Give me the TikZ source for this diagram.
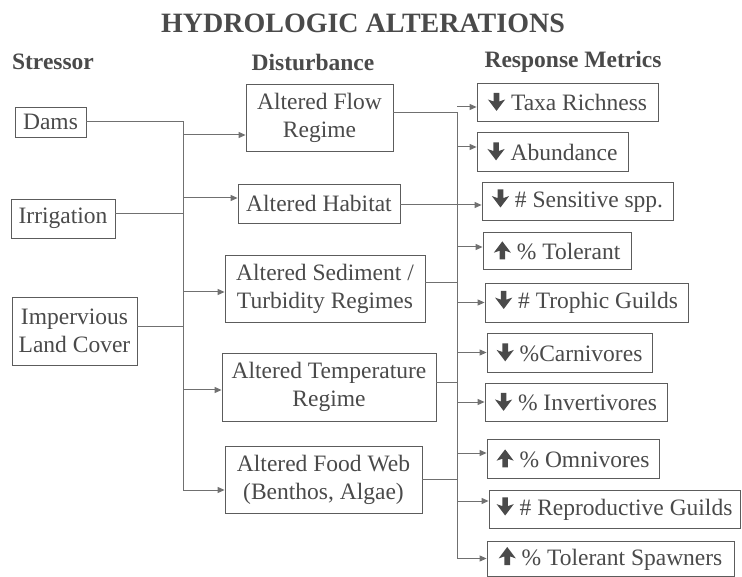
\documentclass[tikz,border=0pt]{standalone}
\usepackage{fontspec}
\setmainfont{Liberation Serif}
\usetikzlibrary{arrows.meta,shadows}
\definecolor{ink}{HTML}{4A4A4A}
\definecolor{wirec}{HTML}{707070}
\definecolor{edgec}{HTML}{5C5C5C}
% bold block arrows placed in front of the metric names
\newcommand\arrdown{\tikz[x=1pt,y=1pt,baseline=0pt]\fill[ink] (6,18)--(11.6,18)--(11.6,9.4)--(17.4,11.4)--(8.8,0)--(0.2,11.4)--(6,9.4)--cycle;}
\newcommand\arrup{\tikz[x=1pt,y=1pt,baseline=0pt]\fill[ink] (6,0)--(11.6,0)--(11.6,8.6)--(17.4,6.6)--(8.8,18)--(0.2,6.6)--(6,8.6)--cycle;}
\begin{document}
\begin{tikzpicture}[x=1pt,y=-1pt,
  box/.style={draw=edgec,line width=0.8pt,fill=white,inner sep=0pt,align=center,text=ink,
    font=\fontsize{23.5}{28}\selectfont,
    drop shadow={shadow xshift=0.5pt,shadow yshift=-1.4pt,fill=edgec,opacity=1}},
  hdr/.style={font=\bfseries\fontsize{23.5}{26}\selectfont,text=ink},
  wire/.style={draw=wirec,line width=1pt},
  arr/.style={wire,-{Triangle[length=7pt,width=6pt]}}]
\useasboundingbox (0,0) rectangle (742,577);

% headings
\node[font=\bfseries\fontsize{28}{30}\selectfont,text=ink] (title) at (363,23) {HYDROLOGIC ALTERATIONS};
\node[hdr] (hstr) at (53,62) {Stressor};
\node[hdr] (hdis) at (313,62) {Disturbance};
\node[hdr] (hres) at (573,62) {Response Metrics};

% stressors
\node[box,minimum width=71pt,minimum height=30pt] (dams) at (50.5,122) {Dams};
\node[box,minimum width=104pt,minimum height=39pt] (irr) at (63,218.5) {Irrigation};
\node[box,minimum width=125pt,minimum height=68pt] (imp) at (74.5,331) {Impervious\\Land Cover};

% disturbances
\node[box,minimum width=147pt,minimum height=67pt] (flow) at (319.5,117.5) {Altered Flow\\Regime};
\node[box,minimum width=162pt,minimum height=39pt] (hab) at (319,203.5) {Altered Habitat};
\node[box,minimum width=200pt,minimum height=67pt] (sed) at (325,288.5) {Altered Sediment /\\Turbidity Regimes};
\node[box,minimum width=214pt,minimum height=68pt] (temp) at (329,387) {Altered Temperature\\Regime};
\node[box,minimum width=197pt,minimum height=67pt] (food) at (323.5,479.5) {Altered Food Web\\(Benthos, Algae)};

% response metrics
\node[box,minimum width=181pt,minimum height=38pt] (r1) at (567.5,102) {\arrdown\ Taxa Richness};
\node[box,minimum width=151pt,minimum height=39pt] (r2) at (552.5,151.5) {\arrdown\ Abundance};
\node[box,minimum width=191pt,minimum height=38pt] (r3) at (577.5,201) {\arrdown\ \# Sensitive spp.};
\node[box,minimum width=148pt,minimum height=37pt] (r4) at (557,250.5) {\arrup\ \% Tolerant};
\node[box,minimum width=203pt,minimum height=39pt] (r5) at (586.5,302.5) {\arrdown\ \# Trophic Guilds};
\node[box,minimum width=165pt,minimum height=39pt] (r6) at (569.5,352.5) {\arrdown\ \%Carnivores};
\node[box,minimum width=182pt,minimum height=38pt] (r7) at (576,402) {\arrdown\ \% Invertivores};
\node[box,minimum width=172pt,minimum height=39pt] (r8) at (573,458.5) {\arrup\ \% Omnivores};
\node[box,minimum width=251pt,minimum height=38pt] (r9) at (614.5,509) {\arrdown\ \# Reproductive Guilds};
\node[box,minimum width=247pt,minimum height=35pt] (r10) at (610.5,558.5) {\arrup\ \% Tolerant Spawners};

% left bus: stressors to disturbances
\coordinate (busL) at (183,0);
\draw[wire] (dams.east) -- (dams.east -| busL) -- ([yshift=-10.5pt]food.west -| busL);
\draw[wire] ([yshift=5pt]irr.east) -- ([yshift=5pt]irr.east -| busL);
\draw[wire] ([yshift=4pt]imp.east) -- ([yshift=4pt]imp.east -| busL);
\draw[arr] ([yshift=-17.5pt]flow.west -| busL) -- ([yshift=-17.5pt]flow.west);
\draw[arr] ([yshift=5.5pt]hab.west -| busL) -- ([yshift=5.5pt]hab.west);
\draw[arr] ([yshift=-3.5pt]sed.west -| busL) -- ([yshift=-3.5pt]sed.west);
\draw[arr] ([yshift=-3pt]temp.west -| busL) -- ([yshift=-3pt]temp.west);
\draw[arr] ([yshift=-10.5pt]food.west -| busL) -- ([yshift=-10.5pt]food.west);

% right bus: disturbances to response metrics
\coordinate (busR) at (457,0);
\draw[wire] ([yshift=4.5pt]flow.east) -- ([yshift=4.5pt]flow.east -| busR) -- (r10.west -| busR);
\draw[wire] ([yshift=5.5pt]sed.east) -- ([yshift=5.5pt]sed.east -| busR);
\draw[wire] ([yshift=4pt]temp.east) -- ([yshift=4pt]temp.east -| busR);
\draw[wire] (food.east) -- (food.east -| busR);
\draw[arr] ([yshift=-1.5pt]hab.east) -- ([yshift=-1.5pt]hab.east -| r3.west);
\draw[arr] ([yshift=-5pt]r1.west -| busR) -- ([yshift=-5pt]r1.west);
\draw[arr] ([yshift=4.5pt]r2.west -| busR) -- ([yshift=4.5pt]r2.west);
\draw[arr] ([yshift=3.5pt]r4.west -| busR) -- ([yshift=3.5pt]r4.west);
\draw[arr] (r5.west -| busR) -- (r5.west);
\draw[arr] (r6.west -| busR) -- (r6.west);
\draw[arr] (r7.west -| busR) -- (r7.west);
\draw[arr] ([yshift=5.5pt]r8.west -| busR) -- ([yshift=5.5pt]r8.west);
\draw[arr] ([yshift=8pt]r9.west -| busR) -- ([yshift=8pt]r9.west);
\draw[arr] (r10.west -| busR) -- (r10.west);
\end{tikzpicture}
\end{document}
